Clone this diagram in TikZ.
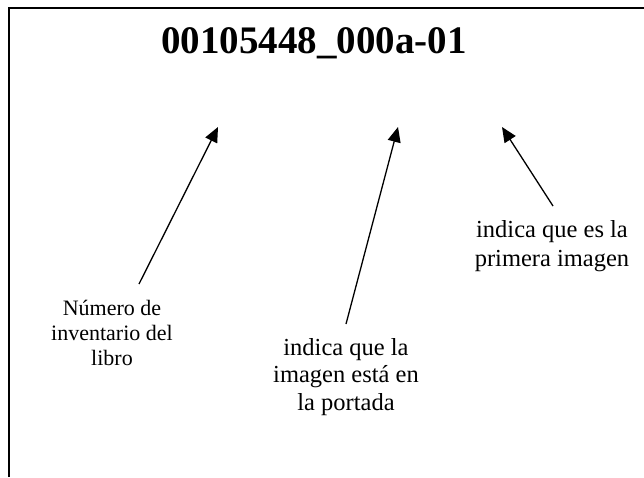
\documentclass[tikz,border=0pt]{standalone}
\usepackage{fontspec}
\setmainfont{Liberation Serif}
\usepackage{tikz}
\usetikzlibrary{arrows.meta, positioning}

\begin{document}
\begin{tikzpicture}[
  x=1pt, y=-1pt,
  frameline/.style={line width=1.6pt, black},
  titlebox/.style={inner sep=0pt, anchor=base, font=\fontsize{39}{46}\selectfont\bfseries},
  notebox/.style n args={2}{inner sep=0pt, anchor=north, align=center, font=\fontsize{#1}{#2}\selectfont},
  pointer/.style={-{Triangle[length=15pt, width=13pt]}, line width=1.3pt}
]
  % page size and frame
  \useasboundingbox (0,0) rectangle (644,477);
  \draw[frameline] (9,477) -- (9,8) -- (644,8);

  % file name
  \node[titlebox] (title) at (314,53) {00105448\_000a-01};

  % where the arrows point
  \coordinate (tipnum) at (218,127);
  \coordinate (tipport) at (398,127);
  \coordinate (tipprim) at (502,127);

  % notes
  \node[notebox={22}{25}] (numlbl) at (112,300) {Número de\\inventario del\\libro};
  \node[notebox={24.5}{27.5}] (portlbl) at (346,338) {indica que la\\imagen está en\\la portada};
  \node[notebox={24.5}{29}] (primlbl) at (552,220) {indica que es la\\primera imagen};

  % arrows
  \draw[pointer] ([shift={(27,-16)}]numlbl.north) -- (tipnum);
  \draw[pointer] ([shift={(0,-14)}]portlbl.north) -- (tipport);
  \draw[pointer] ([shift={(1,-14)}]primlbl.north) -- (tipprim);
\end{tikzpicture}
\end{document}
